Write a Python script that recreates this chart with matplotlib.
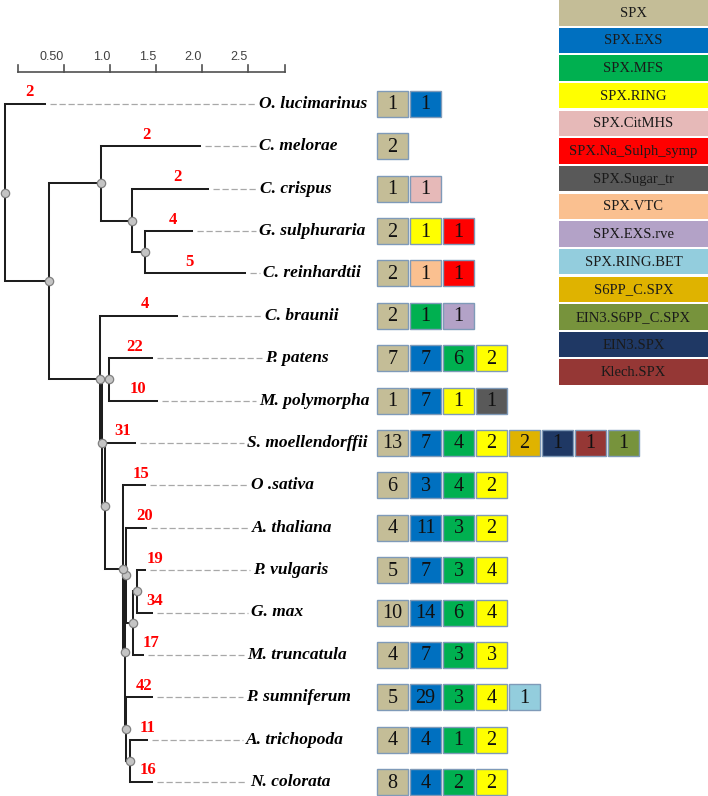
import matplotlib
matplotlib.use("Agg")
import matplotlib.pyplot as plt
from matplotlib.patches import Rectangle
import numpy as np

# ---------------- data ----------------
categories = ["SPX", "SPX.EXS", "SPX.MFS", "SPX.RING", "SPX.CitMHS",
              "SPX.Na_Sulph_symp", "SPX.Sugar_tr", "SPX.VTC", "SPX.EXS.rve",
              "SPX.RING.BET", "S6PP_C.SPX", "EIN3.S6PP_C.SPX", "EIN3.SPX",
              "Klech.SPX"]

species = ["O. lucimarinus", "C. melorae", "C. crispus", "G. sulphuraria",
           "C. reinhardtii", "C. braunii", "P. patens", "M. polymorpha",
           "S. moellendorffii", "O .sativa", "A. thaliana", "P. vulgaris",
           "G. max", "M. truncatula", "P. sumniferum", "A. trichopoda",
           "N. colorata"]

totals = [2, 2, 2, 4, 5, 4, 22, 10, 31, 15, 20, 19, 34, 17, 42, 11, 16]

row_categories = [
    ["SPX", "SPX.EXS"],
    ["SPX"],
    ["SPX", "SPX.CitMHS"],
    ["SPX", "SPX.RING", "SPX.Na_Sulph_symp"],
    ["SPX", "SPX.VTC", "SPX.Na_Sulph_symp"],
    ["SPX", "SPX.MFS", "SPX.EXS.rve"],
    ["SPX", "SPX.EXS", "SPX.MFS", "SPX.RING"],
    ["SPX", "SPX.EXS", "SPX.RING", "SPX.Sugar_tr"],
    ["SPX", "SPX.EXS", "SPX.MFS", "SPX.RING", "S6PP_C.SPX", "EIN3.SPX",
     "Klech.SPX", "EIN3.S6PP_C.SPX"],
    ["SPX", "SPX.EXS", "SPX.MFS", "SPX.RING"],
    ["SPX", "SPX.EXS", "SPX.MFS", "SPX.RING"],
    ["SPX", "SPX.EXS", "SPX.MFS", "SPX.RING"],
    ["SPX", "SPX.EXS", "SPX.MFS", "SPX.RING"],
    ["SPX", "SPX.EXS", "SPX.MFS", "SPX.RING"],
    ["SPX", "SPX.EXS", "SPX.MFS", "SPX.RING", "SPX.RING.BET"],
    ["SPX", "SPX.EXS", "SPX.MFS", "SPX.RING"],
    ["SPX", "SPX.EXS", "SPX.MFS", "SPX.RING"],
]
row_counts = [
    [1, 1], [2], [1, 1], [2, 1, 1], [2, 1, 1], [2, 1, 1],
    [7, 7, 6, 2], [1, 7, 1, 1], [13, 7, 4, 2, 2, 1, 1, 1],
    [6, 3, 4, 2], [4, 11, 3, 2], [5, 7, 3, 4], [10, 14, 6, 4],
    [4, 7, 3, 3], [5, 29, 3, 4, 1], [4, 4, 1, 2], [8, 4, 2, 2],
]

# tree topology (internal node -> children) and branch lengths
tree_children = {
    "root": ["O. lucimarinus", "A"],
    "A": ["B", "E"],
    "B": ["C. melorae", "C"],
    "C": ["C. crispus", "D"],
    "D": ["G. sulphuraria", "C. reinhardtii"],
    "E": ["C. braunii", "G"],
    "G": ["F", "H"],
    "F": ["P. patens", "M. polymorpha"],
    "H": ["S. moellendorffii", "Ang"],
    "Ang": ["O .sativa", "N5"],
    "N5": ["N4", "N6"],
    "N4": ["A. thaliana", "N2"],
    "N2": ["N1", "M. truncatula"],
    "N1": ["P. vulgaris", "G. max"],
    "N6": ["P. sumniferum", "N3"],
    "N3": ["A. trichopoda", "N. colorata"],
}
branch_length = {
    "root": 0.0, "O. lucimarinus": 0.435, "A": 0.478, "B": 0.565,
    "C. melorae": 1.076, "C": 0.337, "C. crispus": 0.826, "D": 0.141,
    "G. sulphuraria": 0.511, "C. reinhardtii": 1.087, "E": 0.554,
    "C. braunii": 0.837, "G": 0.022, "F": 0.076, "P. patens": 0.467,
    "M. polymorpha": 0.522, "H": 0.033, "S. moellendorffii": 0.326,
    "Ang": 0.196, "O .sativa": 0.239, "N5": 0.022, "N4": 0.011,
    "A. thaliana": 0.217, "N2": 0.076, "N1": 0.043, "P. vulgaris": 0.087,
    "G. max": 0.163, "M. truncatula": 0.109, "N6": 0.011,
    "P. sumniferum": 0.283, "N3": 0.043, "A. trichopoda": 0.185,
    "N. colorata": 0.239,
}

scale_ticks = [0.0, 0.5, 1.0, 1.5, 2.0, 2.5]
scale_labels = ["", "0.50", "1.0", "1.5", "2.0", "2.5"]
scale_end = 2.9

colors = {
    "SPX": "#C4BD97", "SPX.EXS": "#0070C0", "SPX.MFS": "#00B050",
    "SPX.RING": "#FFFF00", "SPX.CitMHS": "#E6B9B8",
    "SPX.Na_Sulph_symp": "#FF0000", "SPX.Sugar_tr": "#595959",
    "SPX.VTC": "#FAC090", "SPX.EXS.rve": "#B3A2C7",
    "SPX.RING.BET": "#93CDDD", "S6PP_C.SPX": "#DFB300",
    "EIN3.S6PP_C.SPX": "#77933C", "EIN3.SPX": "#1F3864",
    "Klech.SPX": "#953735",
}

# ---------------- layout ----------------
W, H = 708, 796
PX = 92.0        # pixels per branch-length unit
PY = 42.375      # pixels per leaf row
ROOT_PX = 5
ROW0_PX = 104
LABEL_START_PX = [259, 259, 260, 259, 263, 265, 265, 259, 247, 251, 252,
                  253, 251, 247, 246, 246, 250]
BOX_PX = 377
BOX_W, BOX_STEP, BOX_H = 31, 33, 26
SCALE_PX0, SCALE_Y = 18, 72

SERIF = ["Liberation Serif", "DejaVu Serif"]
SANS = ["Liberation Sans", "DejaVu Sans"]

fig = plt.figure(figsize=(W / 100, H / 100), dpi=100)
ax = fig.add_axes([0, 0, 1, 1])
ax.set_xlim(-ROOT_PX / PX, (W - ROOT_PX) / PX)
ax.set_ylim((H - ROW0_PX) / PY, -ROW0_PX / PY)
ax.axis("off")


def ux(px):
    return px / PX


def uy(px):
    return px / PY


LINE = dict(color="#1e1e1e", lw=1.45, solid_capstyle="projecting", zorder=2)

leaf_counter = [0]
leaf_info = {}
nodes = []


def draw(name, parent_x):
    bl = branch_length[name]
    x = parent_x + bl
    kids = tree_children.get(name)
    if kids is None:
        y = leaf_counter[0]
        leaf_counter[0] += 1
        leaf_info[name] = (parent_x, x, y)
    else:
        ch = [draw(k, x) for k in kids]
        y = (ch[0][1] + ch[-1][1]) / 2
        ax.plot([x, x], [ch[0][1], ch[-1][1]], **LINE)
        nodes.append((x, y))
    if bl > 0:
        ax.plot([parent_x, x], [y, y], **LINE)
    return x, y


draw("root", 0.0)

# node circles
nx, ny = zip(*nodes)
ax.plot(nx, ny, "o", ms=6, mfc="#c4c4c4", mec="#808080", mew=0.9, zorder=3)

for i, sp in enumerate(species):
    px0, x1, y = leaf_info[sp]
    label_x = ux(LABEL_START_PX[i] - ROOT_PX)
    ax.plot([x1 + ux(5), label_x - ux(3)], [y, y], color="#a8a8a8", lw=0.9,
            dashes=(5, 2.2), zorder=1)
    ax.text(label_x, y, sp, ha="left", va="center", fontsize=12.5,
            fontweight="bold", fontstyle="italic", family=SERIF, color="black")
    blen = x1 - px0
    off = np.clip(0.6 * blen, ux(18), ux(45))
    ax.text(px0 + off, y - uy(11.5), str(totals[i]), ha="center",
            va="center", fontsize=12, fontweight="bold", family=SERIF,
            color="#ff0000")
    for k, (cat, cnt) in enumerate(zip(row_categories[i], row_counts[i])):
        bx = ux(BOX_PX - ROOT_PX + k * BOX_STEP)
        ax.add_patch(Rectangle((bx, y - uy(BOX_H) / 2), ux(BOX_W), uy(BOX_H),
                               facecolor=colors[cat], edgecolor="#7f9ab8",
                               lw=1.0, zorder=2))
        ax.text(bx + ux(BOX_W) / 2, y + uy(1), str(cnt), ha="center",
                va="center", fontsize=14.5, family=SERIF, color="#111111",
                zorder=3)

# scale bar
s0 = ux(SCALE_PX0 - ROOT_PX)
sy = uy(SCALE_Y - ROW0_PX)
ax.plot([s0, s0 + scale_end], [sy, sy], color="#505050", lw=1.2, zorder=2)
for t, lab in zip(scale_ticks + [scale_end], scale_labels + [""]):
    ax.plot([s0 + t, s0 + t], [sy, sy - uy(7)], color="#505050", lw=1.2)
    if lab:
        ax.text(s0 + t, sy - uy(15), lab, ha="right", va="center",
                fontsize=9, family=SANS, color="#404040")

# legend
LEG_X, LEG_STEP, LEG_H = 559, 27.65, 25.5
leg_h_total = LEG_STEP * (len(categories) - 1) + LEG_H
lax = fig.add_axes([LEG_X / W, 1 - leg_h_total / H, (W - LEG_X) / W,
                    leg_h_total / H])
lax.set_xlim(0, 1)
lax.set_ylim(leg_h_total, 0)
lax.axis("off")
for j, cat in enumerate(categories):
    lax.add_patch(Rectangle((0, j * LEG_STEP), 1, LEG_H,
                            facecolor=colors[cat], edgecolor="none"))
    lax.text(0.5, j * LEG_STEP + LEG_H / 2 + 0.5, cat, ha="center",
             va="center", fontsize=10.5, family=SERIF, color="#1a1a1a")

fig.savefig("out.png", dpi=100)
